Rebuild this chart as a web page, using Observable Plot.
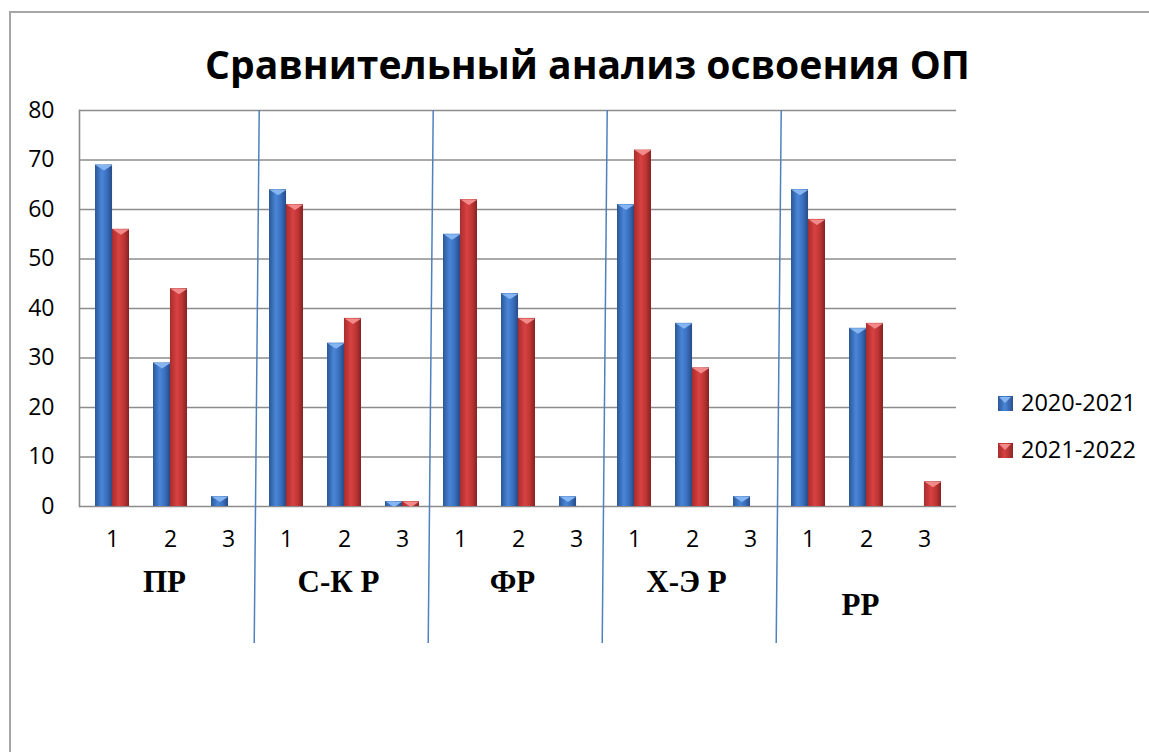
<!DOCTYPE html>
<html>
<head>
<meta charset="utf-8">
<script src="https://cdn.jsdelivr.net/npm/d3@7"></script>
<script src="https://cdn.jsdelivr.net/npm/@observablehq/plot@0.6"></script>
<style>
  html, body { margin: 0; padding: 0; background: #fff; }
  body { position: relative; width: 1149px; height: 752px; overflow: hidden; font-family: "Open Sans", sans-serif; }
  #border { position: absolute; left: 9px; top: 11px; right: -5px; bottom: -5px; border-left: 2px solid #a6a6a6; border-top: 2px solid #a6a6a6; pointer-events: none; }
  #title { position: relative; height: 100px; line-height: 128px; text-align: center; padding-left: 26px; font-weight: 700; color: #000; white-space: nowrap; }
  #chart svg { display: block; overflow: visible; }
  .legend { position: absolute; left: 998px; font-size: 23.5px; color: #000; }
  .legend .sw { position: absolute; left: 0; width: 15px; height: 15px; }
  .legend .sw::after { content: ""; position: absolute; left: 1px; top: 1px; border-left: 6.5px solid transparent; border-right: 6.5px solid transparent; border-top: 6px solid var(--cap); }
  .legend .lb { position: absolute; left: 23px; white-space: nowrap; line-height: 1; }
</style>
</head>
<body>
<div id="border"></div>
<div id="title"><span id="titleText">Сравнительный анализ освоения ОП</span></div>
<div id="chart"></div>
<div class="legend" style="top:396px"><div class="sw" style="background:linear-gradient(90deg,#2b5797,#4a86d8 45%,#2a5190);--cap:#86b6f2"></div><div class="lb" id="lb0" style="top:-5px"></div></div>
<div class="legend" style="top:443px"><div class="sw" style="background:linear-gradient(90deg,#a82c2c,#d84242 45%,#8e2525);--cap:#f28a8a"></div><div class="lb" id="lb1" style="top:-5px"></div></div>
<script>
// ---- data ----
const groups = ["ПР", "С-К Р", "ФР", "Х-Э Р", "РР"];
const subs = ["1", "2", "3"];
const series = ["2020-2021", "2021-2022"];
const values2020 = [69, 29, 2, 64, 33, 1, 55, 43, 2, 61, 37, 2, 64, 36, 0];
const values2021 = [56, 44, 0, 61, 38, 1, 62, 38, 0, 72, 28, 0, 58, 37, 5];
const yTicks = [0, 10, 20, 30, 40, 50, 60, 70, 80];

// ---- table ----
const rows = [];
groups.forEach((g, gi) => subs.forEach((s, si) => {
  const i = gi * subs.length + si;
  rows.push({ key: g + "|" + s, group: g, sub: s, a: values2020[i], b: values2021[i] });
}));
const keys = rows.map(d => d.key);

document.getElementById("lb0").textContent = series[0];
document.getElementById("lb1").textContent = series[1];

// fit title width
(function () {
  const el = document.getElementById("titleText");
  el.style.fontSize = "36px";
  const w = el.getBoundingClientRect().width;
  el.style.fontSize = (36 * 765 / w).toFixed(2) + "px";
})();

const W = 1149, H = 560, ML = 79, MR = 193, MT = 10, MB = 154;
const padInner = 0.42, padOuter = 0.21;
const step = (W - ML - MR) / keys.length;
const half = step * (1 - padInner) / 2;

const defs = () => {
  const d = d3.create("svg:defs");
  const mk = (id, stops) => {
    const lg = d.append("linearGradient").attr("id", id).attr("x1", 0).attr("x2", 1).attr("y1", 0).attr("y2", 0);
    stops.forEach(([o, c]) => lg.append("stop").attr("offset", o).attr("stop-color", c));
  };
  mk("gBlue", [[0, "#2b5797"], [0.4, "#4a86d8"], [0.7, "#3a6fbe"], [1, "#274b86"]]);
  mk("gRed", [[0, "#a82c2c"], [0.4, "#d84242"], [0.7, "#bf3535"], [1, "#862222"]]);
  return d.node();
};

const separators = (index, scales, values, dims) => {
  const g = d3.create("svg:g").attr("stroke", "#4f81bd").attr("stroke-width", 1.5);
  for (let gi = 1; gi < groups.length; gi++) {
    const k = keys[gi * subs.length];
    const xb = scales.x(k) - step * padInner / 2;
    g.append("line")
      .attr("x1", xb + 2.5).attr("y1", dims.marginTop)
      .attr("x2", xb - 2.5).attr("y2", dims.height - 17);
  }
  return g.node();
};

const cap = w => ({
  draw(ctx) {
    ctx.moveTo(-w, 0); ctx.lineTo(w, 0); ctx.lineTo(0, 5.5); ctx.closePath();
  }
});

const labelStyle = { x: "key", text: "group", frameAnchor: "bottom", dx: -6, lineAnchor: "middle", fontFamily: "Liberation Serif, serif", fontWeight: "bold", fontSize: 31 };

const chart = Plot.plot({
  width: W, height: H,
  marginLeft: ML, marginRight: MR, marginTop: MT, marginBottom: MB,
  x: { domain: keys, paddingInner: padInner, paddingOuter: padOuter, axis: null },
  y: { domain: [0, 80], axis: null },
  style: { fontFamily: "Open Sans, sans-serif", fontSize: "23px", color: "#000", background: "transparent", overflow: "visible" },
  marks: [
    defs,
    Plot.gridY(yTicks, { stroke: "#8c8c8c", strokeOpacity: 1, strokeWidth: 1.6 }),
    Plot.frame({ anchor: "left", stroke: "#8c8c8c", strokeWidth: 1.6 }),
    Plot.axisY({ ticks: yTicks, tickSize: 0, tickPadding: 25, fontSize: 23, label: null }),
    Plot.axisX({ tickSize: 0, tickPadding: 24, fontSize: 23, label: null, tickFormat: k => k.split("|")[1] }),
    separators,
    Plot.barY(rows, { x: "key", y: "a", fill: "url(#gBlue)", insetRight: half }),
    Plot.barY(rows, { x: "key", y: "b", fill: "url(#gRed)", insetLeft: half }),
    Plot.dot(rows.filter(d => d.a > 0), { x: "key", y: "a", dx: -half / 2, symbol: cap(half / 2), fill: "#86b6f2", stroke: "none" }),
    Plot.dot(rows.filter(d => d.b > 0), { x: "key", y: "b", dx: half / 2, symbol: cap(half / 2), fill: "#f28a8a", stroke: "none" }),
    Plot.text(rows.filter(d => d.sub === "2" && d.group !== "РР"), { ...labelStyle, dy: 76 }),
    Plot.text(rows.filter(d => d.sub === "2" && d.group === "РР"), { ...labelStyle, dy: 99 })
  ]
});
document.getElementById("chart").appendChild(chart);
</script>
</body>
</html>
